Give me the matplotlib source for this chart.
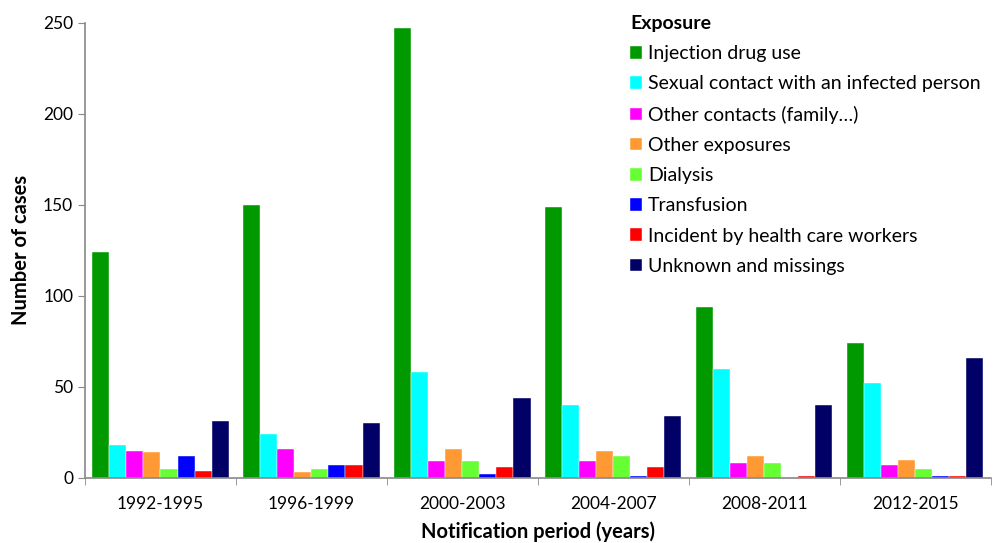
import numpy as np
import matplotlib.pyplot as plt

plt.rcParams['font.family'] = ['Lato', 'DejaVu Sans']

periods = ['1992-1995', '1996-1999', '2000-2003', '2004-2007', '2008-2011', '2012-2015']

exposures = ['Injection drug use',
             'Sexual contact with an infected person',
             'Other contacts (family…)',
             'Other exposures',
             'Dialysis',
             'Transfusion',
             'Incident by health care workers',
             'Unknown and missings']

injection = [124, 150, 247, 149, 94, 74]
sexual = [18, 24, 58, 40, 60, 52]
other_contacts = [15, 16, 9, 9, 8, 7]
other_exposures = [14, 3, 16, 15, 12, 10]
dialysis = [5, 5, 9, 12, 8, 5]
transfusion = [12, 7, 2, 1, 0, 1]
incident = [4, 7, 6, 6, 1, 1]
unknown = [31, 30, 44, 34, 40, 66]

series = [injection, sexual, other_contacts, other_exposures,
          dialysis, transfusion, incident, unknown]
colors = ['#009900', '#00FFFF', '#FF00FF', '#FF9933',
          '#66FF33', '#0000FF', '#FF0000', '#000066']

fig = plt.figure(figsize=(9.94, 5.43), dpi=100)
ax = fig.add_axes([0.0855, 0.12, 0.911, 0.838])

x = np.arange(len(periods))
w = 0.113
for i, (vals, c, lab) in enumerate(zip(series, colors, exposures)):
    ax.bar(x + (i - 3.5) * w, vals, width=w, color=c, label=lab,
           edgecolor='white', linewidth=0.3)

ax.set_xlim(-0.5, 5.5)
ax.set_ylim(0, 250)
ax.set_yticks([0, 50, 100, 150, 200, 250])
ax.set_xticks(x)
ax.set_xticklabels(periods)
ax.set_xticks(np.arange(-0.5, 6.0, 1.0), minor=True)
ax.tick_params(axis='x', which='major', length=0, labelsize=12.5, pad=13)
ax.tick_params(axis='x', which='minor', length=5, color='#888888', direction='out')
ax.tick_params(axis='y', length=5, color='#888888', labelsize=12.5)

for s in ['top', 'right']:
    ax.spines[s].set_visible(False)
for s in ['left', 'bottom']:
    ax.spines[s].set_color('#888888')
    ax.spines[s].set_linewidth(1.2)

ax.set_ylabel('Number of cases', fontsize=14.5, fontweight='bold', labelpad=9)
ax.set_xlabel('Notification period (years)', fontsize=14.5, fontweight='bold', labelpad=7)

leg = ax.legend(loc='upper left', bbox_to_anchor=(630 / 994, 1 - 15 / 543),
                bbox_transform=fig.transFigure, frameon=False,
                borderpad=0, borderaxespad=0,
                title='Exposure', fontsize=14, handlelength=0.62, handleheight=0.62,
                handletextpad=0.3, labelspacing=0.68, alignment='left')
leg.get_title().set_fontweight('bold')
leg.get_title().set_fontsize(14)

fig.savefig('out.png', dpi=100)
